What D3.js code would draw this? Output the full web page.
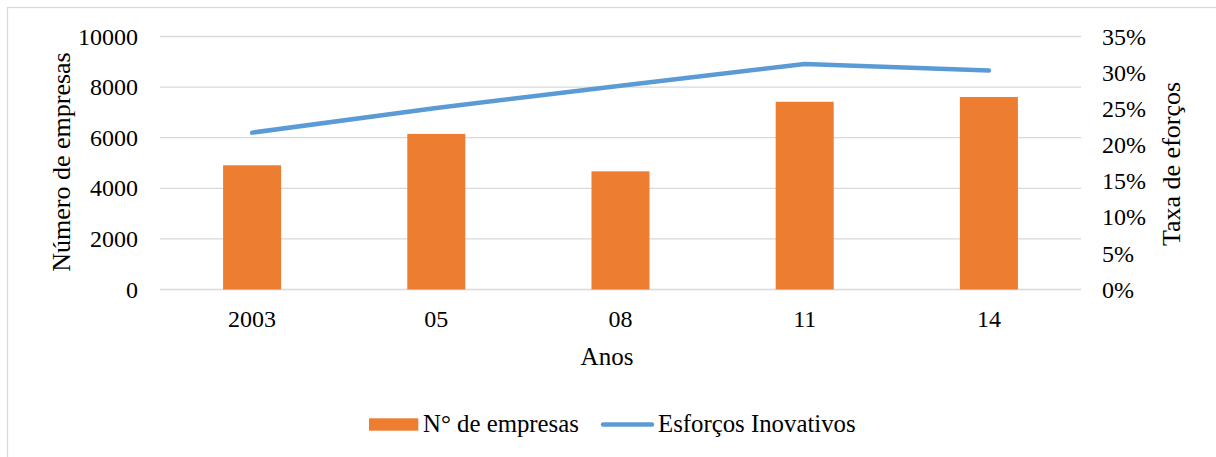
<!DOCTYPE html>
<html>
<head>
<meta charset="utf-8">
<script src="https://cdn.jsdelivr.net/npm/d3@7"></script>
<style>
  html, body { margin: 0; padding: 0; background: #fff; }
  svg { display: block; }
  svg text { font-family: "Liberation Serif", "Times New Roman", serif; fill: #000; }
</style>
</head>
<body>
<svg id="chart" width="1216" height="457"></svg>
<script>
const categories = ["2003", "05", "08", "11", "14"];
const empresas = [4910, 6150, 4670, 7420, 7610];
const esforcos = [0.217, 0.251, 0.282, 0.312, 0.303];
const leftTicks = [0, 2000, 4000, 6000, 8000, 10000];
const rightTicks = [0, 0.05, 0.10, 0.15, 0.20, 0.25, 0.30, 0.35];

const svg = d3.select("#chart");
const W = 1216, H = 457;
const plot = { left: 160, right: 1081, top: 36.5, bottom: 289.5 };
const tickFont = 24;

// outer chart border
svg.append("rect")
  .attr("x", 7.5).attr("y", 7.5)
  .attr("width", W).attr("height", H)
  .attr("fill", "none").attr("stroke", "#D9D9D9").attr("stroke-width", 1.3);

const x = d3.scaleBand()
  .domain(categories)
  .range([plot.left, plot.right])
  .paddingInner(0.685)
  .paddingOuter(0.685 / 2);

const yL = d3.scaleLinear().domain([0, 10000]).range([plot.bottom, plot.top]);
const yR = d3.scaleLinear().domain([0, 0.35]).range([plot.bottom, plot.top]);

// gridlines
svg.append("g")
  .selectAll("line")
  .data(leftTicks)
  .join("line")
  .attr("x1", plot.left).attr("x2", plot.right)
  .attr("y1", d => yL(d)).attr("y2", d => yL(d))
  .attr("stroke", "#D9D9D9").attr("stroke-width", 1.3);

// left axis
const gL = svg.append("g")
  .attr("transform", `translate(${plot.left - 22},0)`)
  .call(d3.axisLeft(yL).tickValues(leftTicks).tickSize(0).tickPadding(0).tickFormat(d => String(d)));
gL.attr("font-family", null);
gL.select(".domain").remove();
gL.selectAll("text").attr("font-size", tickFont).attr("fill", "#000");

// right axis
const gR = svg.append("g")
  .attr("transform", `translate(${plot.right + 21},0)`)
  .call(d3.axisRight(yR).tickValues(rightTicks).tickSize(0).tickPadding(0).tickFormat(d3.format(".0%")));
gR.attr("font-family", null);
gR.select(".domain").remove();
gR.selectAll("text").attr("font-size", tickFont).attr("fill", "#000");

// bottom axis labels
const gX = svg.append("g")
  .attr("transform", `translate(0,${plot.bottom})`)
  .call(d3.axisBottom(x).tickSize(0).tickPadding(0));
gX.attr("font-family", null);
gX.select(".domain").remove();
gX.selectAll("text")
  .attr("font-size", tickFont).attr("fill", "#000")
  .attr("dy", null).attr("y", 37.5);

// bars
svg.append("g")
  .selectAll("rect")
  .data(categories)
  .join("rect")
  .attr("x", d => x(d))
  .attr("width", x.bandwidth())
  .attr("y", (d, i) => yL(empresas[i]))
  .attr("height", (d, i) => yL(0) - yL(empresas[i]))
  .attr("fill", "#ED7D31");

// line
const line = d3.line()
  .x((d, i) => x(categories[i]) + x.bandwidth() / 2)
  .y(d => yR(d));
svg.append("path")
  .datum(esforcos)
  .attr("d", line)
  .attr("fill", "none")
  .attr("stroke", "#5B9BD5")
  .attr("stroke-width", 4.5)
  .attr("stroke-linecap", "round")
  .attr("stroke-linejoin", "round");

// axis titles
svg.append("text")
  .attr("transform", `translate(70,162) rotate(-90)`)
  .attr("text-anchor", "middle")
  .attr("font-size", 26)
  .text("Número de empresas");

svg.append("text")
  .attr("transform", `translate(1180,164) rotate(-90)`)
  .attr("text-anchor", "middle")
  .attr("font-size", 26)
  .text("Taxa de eforços");

svg.append("text")
  .attr("x", 607)
  .attr("y", 365)
  .attr("text-anchor", "middle")
  .attr("font-size", 25)
  .text("Anos");

// legend
const leg = svg.append("g");
leg.append("rect")
  .attr("x", 369).attr("y", 418.3).attr("width", 49.3).attr("height", 12.4)
  .attr("fill", "#ED7D31");
leg.append("text")
  .attr("x", 423).attr("y", 432)
  .attr("font-size", 24.8)
  .text("N° de empresas");
leg.append("line")
  .attr("x1", 603).attr("x2", 652).attr("y1", 424.5).attr("y2", 424.5)
  .attr("stroke", "#5B9BD5").attr("stroke-width", 4.5).attr("stroke-linecap", "round");
leg.append("text")
  .attr("x", 658).attr("y", 432)
  .attr("font-size", 24.8)
  .text("Esforços Inovativos");
</script>
</body>
</html>
